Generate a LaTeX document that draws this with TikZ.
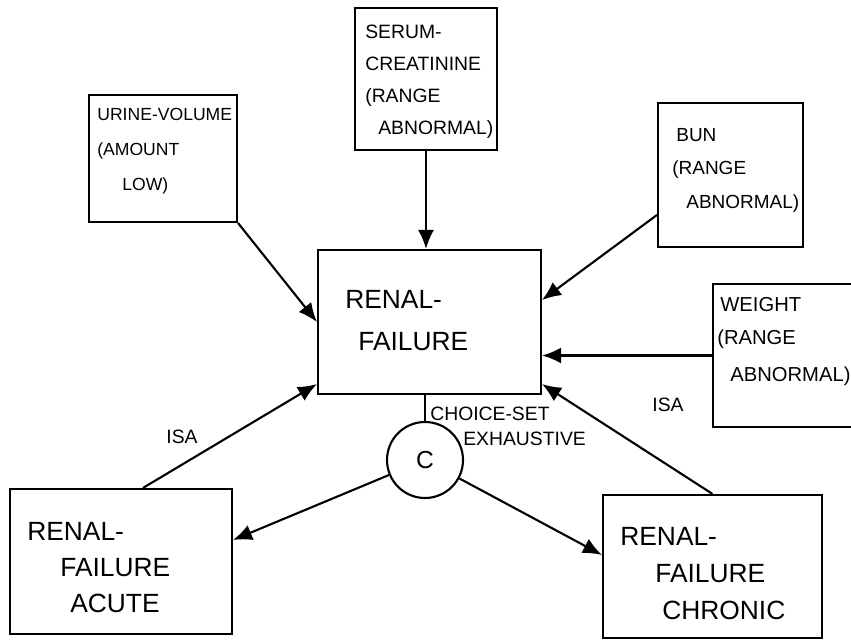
\documentclass[tikz,border=0pt]{standalone}
\usepackage{fontspec}
\setmainfont{Liberation Sans}
\usetikzlibrary{arrows.meta, positioning}

\tikzset{
  boite/.style={draw, line width=1.2pt, inner sep=0pt},
  petit/.style={anchor=north west, align=left, inner sep=0pt, font=\fontsize{10.8}{19}\selectfont},
  grand/.style={anchor=north west, align=left, inner sep=0pt, font=\fontsize{15}{21}\selectfont},
  etiq/.style={inner sep=0pt, align=left, font=\fontsize{11}{14}\selectfont},
  fleche/.style={line width=1.2pt, -{Latex[length=3.8mm,width=3.2mm]}},
}

\begin{document}
\begin{tikzpicture}
        \useasboundingbox (0,0) rectangle (17.02,-12.8);

        % Les boîtes
        \node[boite, minimum width=4.46cm, minimum height=2.88cm] (rf) at (8.59,-6.44) {};
        \node[boite, minimum width=2.84cm, minimum height=2.84cm] (serum) at (8.52,-1.58) {};
        \node[boite, minimum width=2.96cm, minimum height=2.54cm] (urine) at (3.26,-3.17) {};
        \node[boite, minimum width=2.9cm, minimum height=2.88cm] (bun) at (14.61,-3.5) {};
        \node[boite, minimum width=2.9cm, minimum height=2.86cm] (poids) at (15.71,-7.11) {};
        \node[boite, minimum width=4.44cm, minimum height=2.9cm] (aigue) at (2.42,-11.23) {};
        \node[boite, minimum width=4.38cm, minimum height=2.86cm] (chronique) at (14.25,-11.33) {};

        % Le cercle de choix
        \node[draw, circle, line width=1.2pt, minimum size=1.52cm, inner sep=0pt,
              font=\fontsize{14}{14}\selectfont] (choix) at (8.5,-9.2) {C};

        % Textes des boîtes
        \node[grand] (rftxt) at (6.9,-5.8) {RENAL-\\[3pt]\hspace*{0.26cm}FAILURE};
        \node[petit, font=\fontsize{11}{18.2}\selectfont] (serumtxt) at (7.3,-0.5)
            {SERUM-\\CREATININE\\(RANGE\\\hspace*{0.26cm}ABNORMAL)};
        \node[petit, font=\fontsize{10}{19.9}\selectfont] (urinetxt) at (1.94,-2.16)
            {URINE-VOLUME\\(AMOUNT\\\hspace*{0.5cm}LOW)};
        \node[petit] (buntxt) at (13.44,-2.56)
            {\hspace*{0.08cm}BUN\\(RANGE\\\hspace*{0.28cm}ABNORMAL)};
        \node[petit, font=\fontsize{11.5}{19}\selectfont] (poidstxt) at (14.34,-5.94)
            {\hspace*{0.06cm}WEIGHT\\(RANGE\\[2pt]\hspace*{0.26cm}ABNORMAL)};
        \node[grand, font=\fontsize{15}{20.5}\selectfont] (aiguetxt) at (0.54,-10.44)
            {RENAL-\\\hspace*{0.66cm}FAILURE\\\hspace*{0.86cm}ACUTE};
        \node[grand] (chroniquetxt) at (12.4,-10.54)
            {RENAL-\\\hspace*{0.7cm}FAILURE\\\hspace*{0.84cm}CHRONIC};

        % Liens vers RENAL-FAILURE
        \draw[fleche] (serum.south) -- (serum.south |- rf.north);
        \draw[fleche] (urine.south east) -- (rf.west);
        \draw[fleche] ([yshift=-0.8cm]bun.west) -- ([yshift=0.44cm]rf.east);
        \draw[fleche] (poids.west) -- (poids.west -| rf.east);

        % ISA
        \draw[fleche] ([xshift=0.44cm]aigue.north) -- ([yshift=0.22cm]rf.south west);
        \draw[fleche] (chronique.north) -- ([yshift=0.22cm]rf.south east);
        \node[etiq] (isag) at (3.64,-8.74) {ISA};
        \node[etiq] (isad) at (13.36,-8.1) {ISA};

        % Choix
        \draw[line width=1.2pt] (choix.north) -- (choix.north |- rf.south);
        \draw[fleche] (choix) -- ([yshift=0.43cm]aigue.east);
        \draw[fleche] (choix) -- ([yshift=0.23cm]chronique.west);
        \node[etiq, anchor=north west] (choixtxt) at (8.6,-8.14)
            {CHOICE-SET\\\hspace*{0.66cm}EXHAUSTIVE};
    \end{tikzpicture}
\end{document}
